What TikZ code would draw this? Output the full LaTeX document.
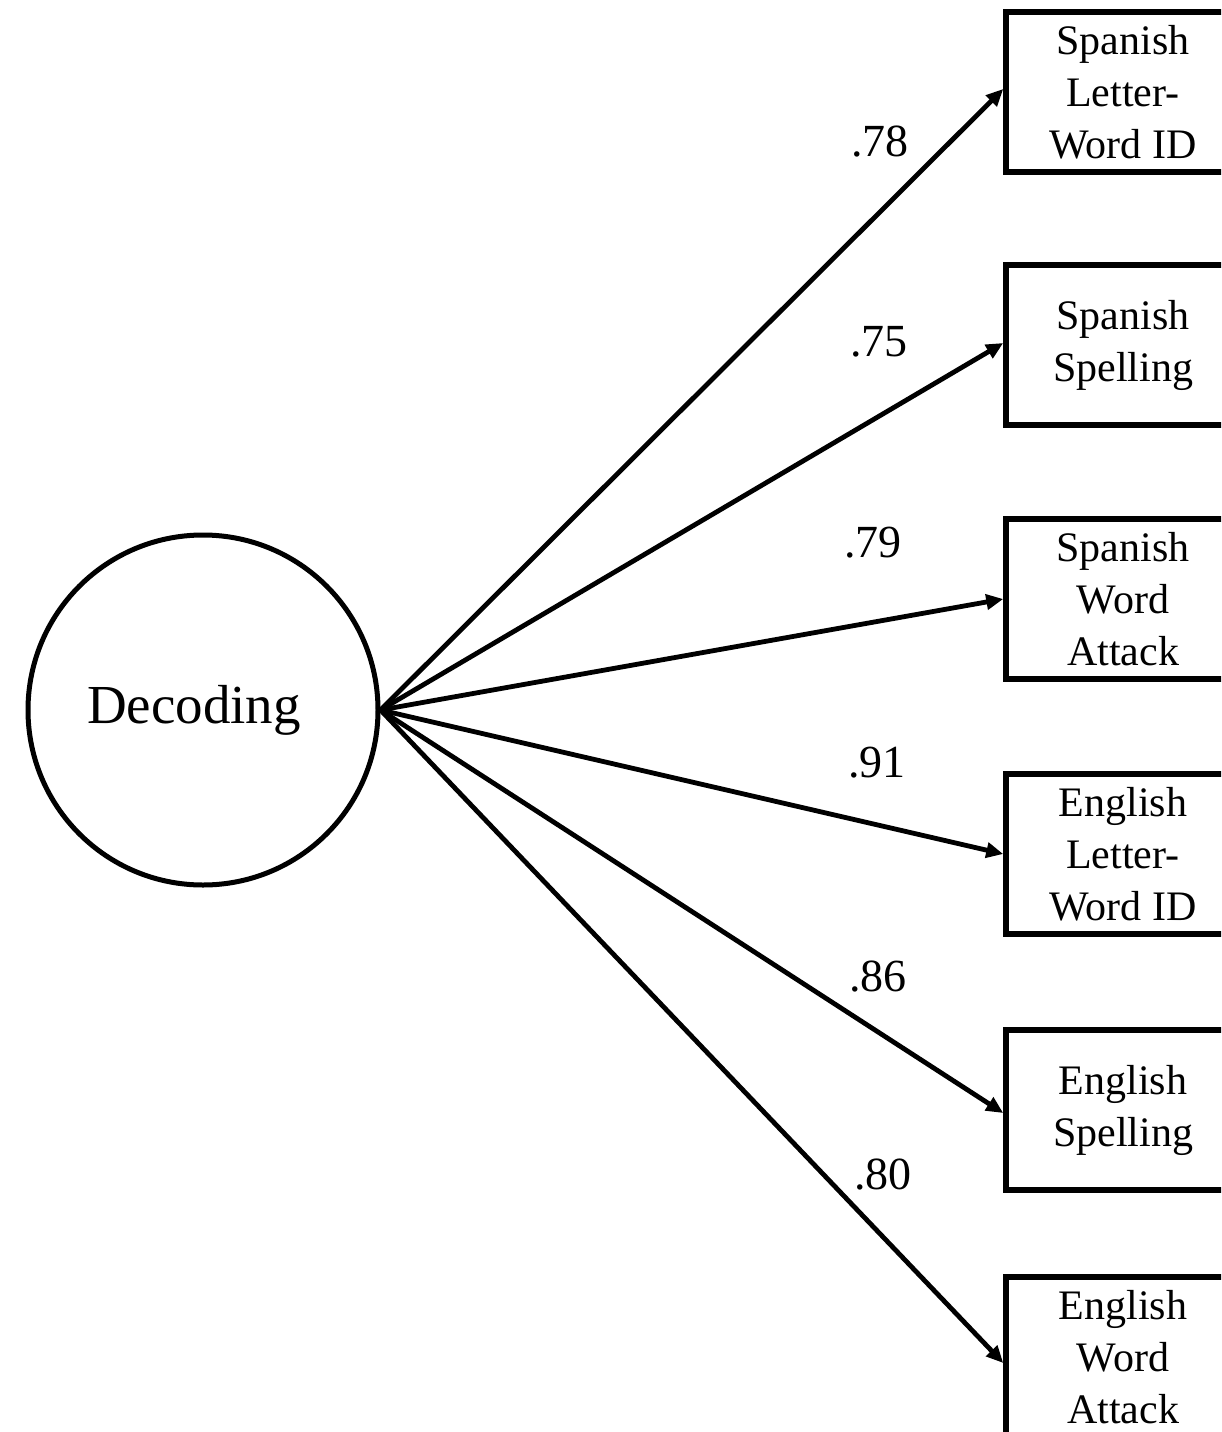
\documentclass[tikz,border=0pt]{standalone}
\usepackage{fontspec}
\setmainfont{Liberation Serif}
\usetikzlibrary{arrows.meta}

\begin{document}
\begin{tikzpicture}[x=1pt,y=-1pt,
  latent/.style={draw,circle,line width=5pt,minimum size=350pt,inner sep=0pt},
  latentname/.style={font=\fontsize{55}{60}\selectfont,inner sep=0pt},
  indicator/.style={draw,rectangle,line width=5.5pt,minimum width=234pt,
    minimum height=160pt,inner sep=0pt,align=center,
    font=\fontsize{42}{52}\selectfont},
  loading/.style={font=\fontsize{46}{52}\selectfont,inner sep=0pt},
  path/.style={line width=4.8pt,-{Triangle[length=17pt,width=15pt]}}]
  \useasboundingbox (0,0) rectangle (1221,1432);
  \clip (0,0) rectangle (1221,1432);
  \fill[white] (0,0) rectangle (1221,1432);

  % latent factor
  \node[latent] (dec) at (203,710) {};
  \node[latentname] (decname) at (194,710) {Decoding};

  % observed indicators
  \node[indicator] (b1) at (1123,92)  {Spanish\\Letter-\\Word ID};
  \node[indicator] (b2) at (1123,345) {Spanish\\Spelling};
  \node[indicator] (b3) at (1123,599) {Spanish\\Word\\Attack};
  \node[indicator] (b4) at (1123,854) {English\\Letter-\\Word ID};
  \node[indicator] (b5) at (1123,1110) {English\\Spelling};
  \node[indicator] (b6) at (1123,1357) {English\\Word\\Attack};

  % factor loadings
  \draw[path] (dec.east) -- ([yshift=3pt]b1.west);
  \draw[path] (dec.east) -- ([yshift=2pt]b2.west);
  \draw[path] (dec.east) -- (b3.west);
  \draw[path] (dec.east) -- (b4.west);
  \draw[path] (dec.east) -- ([yshift=-3pt]b5.west);
  \draw[path] (dec.east) -- ([yshift=-6pt]b6.west);

  \node[loading] (l1) at (880,142)  {.78};
  \node[loading] (l2) at (879,342)  {.75};
  \node[loading] (l3) at (873,543)  {.79};
  \node[loading] (l4) at (877,763)  {.91};
  \node[loading] (l5) at (878,977)  {.86};
  \node[loading] (l6) at (883,1175) {.80};
\end{tikzpicture}
\end{document}
